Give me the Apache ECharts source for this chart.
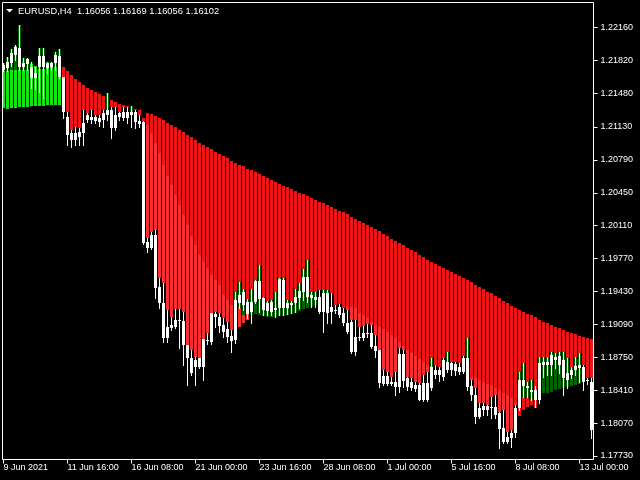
<!DOCTYPE html>
<html><head><meta charset="utf-8">
<script src="https://cdn.jsdelivr.net/npm/echarts@6/dist/echarts.min.js"></script>
<style>html,body{margin:0;padding:0;background:#000}#c{width:640px;height:480px}</style>
</head><body><div id="c"></div>
<script>
const titleText = 'EURUSD,H4  1.16056 1.16169 1.16056 1.16102';
const xLabels = ['9 Jun 2021','11 Jun 16:00','16 Jun 08:00','21 Jun 00:00','23 Jun 16:00','28 Jun 08:00','1 Jul 00:00','5 Jul 16:00','8 Jul 08:00','13 Jul 00:00'];
const yTicks = [1.2216,1.2182,1.2148,1.2113,1.2079,1.2045,1.2011,1.1977,1.1943,1.1909,1.1875,1.1841,1.1807,1.1773];

const opens = [1.2172,1.2174,1.2179,1.2196,1.2195,1.2175,1.2183,1.2175,1.2164,1.2175,
1.2186,1.2174,1.2175,1.2187,1.2186,1.2165,1.2123,1.2107,1.2100,1.2103,
1.2107,1.2125,1.2123,1.2123,1.2118,1.2120,1.2131,1.2131,1.2112,1.2123,
1.2128,1.2122,1.2128,1.2128,1.2119,1.2118,1.1988,1.2001,1.2001,1.1948,
1.1931,1.1895,1.1905,1.1906,1.1914,1.1912,1.1888,1.1859,1.1865,1.1865,
1.1865,1.1892,1.1891,1.1920,1.1917,1.1908,1.1904,1.1892,1.1893,1.1931,
1.1942,1.1920,1.1922,1.1932,1.1954,1.1936,1.1923,1.1932,1.1924,1.1926,
1.1955,1.1926,1.1929,1.1931,1.1936,1.1942,1.1958,1.1939,1.1937,1.1922,
1.1941,1.1941,1.1927,1.1924,1.1927,1.1921,1.1910,1.1911,1.1880,1.1895,
1.1895,1.1900,1.1900,1.1887,1.1883,1.1856,1.1847,1.1849,1.1844,1.1844,
1.1878,1.1854,1.1849,1.1846,1.1846,1.1831,1.1831,1.1843,1.1862,1.1857,
1.1855,1.1870,1.1862,1.1868,1.1860,1.1874,1.1874,1.1845,1.1836,1.1813,
1.1821,1.1825,1.1823,1.1824,1.1817,1.1802,1.1787,1.1792,1.1797,1.1823,
1.1852,1.1845,1.1841,1.1831,1.1831,1.1867,1.1870,1.1867,1.1875,1.1876,
1.1872,1.1852,1.1857,1.1862,1.1867,1.1865,1.1852,1.1849];

const closes = [1.2177,1.2180,1.2189,1.2187,1.2175,1.2179,1.2178,1.2164,1.2169,1.2186,
1.2175,1.2179,1.2179,1.2179,1.2165,1.2128,1.2105,1.2100,1.2107,1.2108,
1.2117,1.2120,1.2120,1.2119,1.2122,1.2127,1.2125,1.2112,1.2125,1.2127,
1.2122,1.2128,1.2125,1.2118,1.2116,1.1993,1.1994,1.1988,1.1947,1.1931,
1.1895,1.1906,1.1908,1.1914,1.1912,1.1888,1.1874,1.1874,1.1872,1.1874,
1.1894,1.1893,1.1921,1.1917,1.1907,1.1901,1.1896,1.1897,1.1934,1.1939,
1.1929,1.1932,1.1932,1.1954,1.1935,1.1924,1.1931,1.1922,1.1926,1.1956,
1.1926,1.1931,1.1931,1.1937,1.1943,1.1958,1.1937,1.1936,1.1934,1.1937,
1.1922,1.1921,1.1922,1.1923,1.1919,1.1910,1.1901,1.1880,1.1896,1.1896,
1.1900,1.1899,1.1886,1.1881,1.1848,1.1847,1.1856,1.1847,1.1849,1.1878,
1.1850,1.1844,1.1843,1.1842,1.1831,1.1848,1.1848,1.1865,1.1857,1.1862,
1.1872,1.1862,1.1869,1.1861,1.1865,1.1860,1.1844,1.1836,1.1813,1.1823,
1.1825,1.1821,1.1824,1.1815,1.1801,1.1787,1.1793,1.1797,1.1823,1.1852,
1.1845,1.1843,1.1839,1.1841,1.1869,1.1870,1.1867,1.1877,1.1872,1.1867,
1.1854,1.1859,1.1862,1.1866,1.1864,1.1849,1.1850,1.1800];

const highs = [1.2179,1.2185,1.2194,1.2198,1.2218,1.2184,1.2184,1.2180,1.2175,1.2195,
1.2195,1.2180,1.2180,1.2190,1.2194,1.2165,1.2128,1.2110,1.2113,1.2112,
1.2131,1.2127,1.2131,1.2125,1.2125,1.2131,1.2148,1.2134,1.2134,1.2128,
1.2134,1.2134,1.2135,1.2131,1.2125,1.2119,1.1998,1.2004,1.2007,1.1957,
1.1952,1.1924,1.1917,1.1925,1.1925,1.1922,1.1888,1.1883,1.1875,1.1874,
1.1894,1.1900,1.1921,1.1922,1.1921,1.1916,1.1911,1.1903,1.1942,1.1953,
1.1946,1.1935,1.1946,1.1955,1.1970,1.1937,1.1933,1.1934,1.1942,1.1957,
1.1957,1.1934,1.1933,1.1946,1.1952,1.1966,1.1976,1.1942,1.1942,1.1945,
1.1945,1.1945,1.1941,1.1929,1.1930,1.1926,1.1924,1.1914,1.1914,1.1906,
1.1907,1.1909,1.1908,1.1898,1.1883,1.1862,1.1860,1.1855,1.1860,1.1885,
1.1883,1.1855,1.1854,1.1849,1.1848,1.1857,1.1860,1.1874,1.1867,1.1865,
1.1874,1.1880,1.1870,1.1870,1.1869,1.1876,1.1895,1.1852,1.1843,1.1828,
1.1828,1.1826,1.1834,1.1836,1.1818,1.1821,1.1798,1.1800,1.1826,1.1860,
1.1869,1.1849,1.1852,1.1845,1.1875,1.1875,1.1875,1.1880,1.1879,1.1880,
1.1880,1.1874,1.1865,1.1875,1.1879,1.1867,1.1854,1.1854];

const lows = [1.2171,1.2171,1.2176,1.2182,1.2172,1.2172,1.2172,1.2153,1.2152,1.2149,
1.2143,1.2169,1.2172,1.2172,1.2164,1.2122,1.2094,1.2092,1.2094,1.2094,
1.2094,1.2118,1.2117,1.2117,1.2114,1.2113,1.2120,1.2102,1.2110,1.2120,
1.2120,1.2117,1.2113,1.2112,1.2113,1.1992,1.1984,1.1987,1.1936,1.1926,
1.1891,1.1891,1.1903,1.1905,1.1885,1.1867,1.1846,1.1857,1.1846,1.1864,
1.1852,1.1889,1.1889,1.1906,1.1901,1.1896,1.1891,1.1880,1.1890,1.1926,
1.1924,1.1916,1.1910,1.1931,1.1922,1.1919,1.1919,1.1919,1.1917,1.1919,
1.1919,1.1920,1.1921,1.1922,1.1926,1.1934,1.1932,1.1927,1.1927,1.1921,
1.1901,1.1910,1.1910,1.1921,1.1917,1.1908,1.1900,1.1879,1.1877,1.1893,
1.1893,1.1896,1.1885,1.1875,1.1844,1.1846,1.1846,1.1846,1.1836,1.1839,
1.1844,1.1841,1.1841,1.1840,1.1831,1.1830,1.1830,1.1841,1.1854,1.1850,
1.1852,1.1860,1.1857,1.1857,1.1858,1.1859,1.1841,1.1831,1.1807,1.1812,
1.1815,1.1815,1.1812,1.1812,1.1781,1.1786,1.1786,1.1782,1.1793,1.1821,
1.1834,1.1834,1.1831,1.1824,1.1828,1.1855,1.1857,1.1857,1.1864,1.1859,
1.1836,1.1843,1.1854,1.1857,1.1849,1.1841,1.1847,1.1792];

// upper (red) band line
const bandTop = [null,null,null,null,null,null,null,null,null,null,null,null,null,null,null,
1.2175,1.2171,1.2167,1.2163,1.2159,
1.2156,1.2153,1.2151,1.2149,1.2147,1.2145,1.2143,1.2141,1.2139,1.2137,
1.2136,1.2135,1.2133,1.2132,1.2131,1.2122,1.2127,1.2126,1.2124,1.2122,
1.2120,1.2117,1.2115,1.2113,1.2110,1.2108,1.2105,1.2103,1.2100,1.2096,
1.2094,1.2092,1.2090,1.2087,1.2085,1.2083,1.2081,1.2078,1.2076,1.2074,
1.2073,1.2070,1.2069,1.2066,1.2064,1.2062,1.2060,1.2058,1.2056,1.2054,
1.2052,1.2051,1.2049,1.2047,1.2045,1.2044,1.2042,1.2040,1.2038,1.2036,
1.2034,1.2032,1.2030,1.2028,1.2026,1.2025,1.2023,1.2020,1.2018,1.2016,
1.2014,1.2012,1.2010,1.2008,1.2005,1.2002,1.2000,1.1997,1.1995,1.1993,
1.1991,1.1988,1.1986,1.1984,1.1981,1.1979,1.1976,1.1973,1.1971,1.1969,
1.1967,1.1965,1.1963,1.1961,1.1959,1.1957,1.1955,1.1953,1.1950,1.1948,
1.1946,1.1942,1.1941,1.1938,1.1936,1.1933,1.1931,1.1928,1.1926,1.1924,
1.1922,1.1920,1.1919,1.1917,1.1914,1.1911,1.1910,1.1908,1.1906,1.1905,
1.1903,1.1901,1.1900,1.1899,1.1897,1.1896,1.1895,1.1894];

// red band lower end where it is not the bar high: [bar, price]
const bandLowOverride = [[58,1.1903],[59,1.1906],[60,1.1910],[61,1.1914],
[129,1.1814],[130,1.1821],[131,1.1824],[132,1.1826],[133,1.1823]];

// lighter red band upper line: [bar, price]
const lightTop = [[36,1.2115],[37,1.2107],[38,1.2096],[39,1.2086],[40,1.2074],[41,1.2062],[42,1.2053],[43,1.2043],[44,1.2032],[45,1.2022],
[46,1.2012],[47,1.2000],[48,1.1991],[49,1.1981],[50,1.1973],[51,1.1967],[52,1.1960],[53,1.1955],[54,1.1950],[55,1.1939],
[56,1.1934],[57,1.1929],[58,1.1929],[59,1.1928],[60,1.1928],[61,1.1928],
[86,1.1927],[87,1.1927],[88,1.1926],[89,1.1921],[90,1.1919],[91,1.1916],[92,1.1911],[93,1.1908],[94,1.1906],[95,1.1904],
[96,1.1901],[97,1.1898],[98,1.1895],[99,1.1891],[100,1.1887],[101,1.1883],[102,1.1879],[103,1.1876],[104,1.1873],[105,1.1870],[106,1.1867],
[117,1.1854],[118,1.1854],[119,1.1852],[120,1.1849],[121,1.1847],[122,1.1845],[123,1.1843],[124,1.1841],[125,1.1838],[126,1.1836],[127,1.1833],[128,1.1828]];

// bright green band (bars 0..14)
const greenTop = [1.2171,1.2171,1.2172,1.2172,1.2172,1.2172,1.2172,1.2178,1.2176,1.2173,1.2173,1.2174,1.2175,1.2175,1.2175];
const greenBot = [1.2133,1.2132,1.2133,1.2133,1.2134,1.2134,1.2134,1.2135,1.2135,1.2135,1.2135,1.2136,1.2136,1.2136,1.2136];

// dark green bars: [bar, top, bottom]
const darkGreen = [[0,1.2179,1.2171],[1,1.2185,1.2171],[2,1.2194,1.2172],[3,1.2198,1.2172],[4,1.2218,1.2172],[5,1.2184,1.2172],[6,1.2184,1.2172],
[7,1.2180,1.2178],[9,1.2195,1.2173],[10,1.2195,1.2173],[11,1.2180,1.2174],[12,1.2180,1.2175],[13,1.2190,1.2175],[14,1.2194,1.2175],
[26,1.2148,1.2131],[32,1.2135,1.2128],
[58,1.1942,1.1927],[59,1.1953,1.1926],[60,1.1946,1.1919],[61,1.1935,1.1920],[62,1.1946,1.1919],[63,1.1955,1.1920],[64,1.1970,1.1919],
[65,1.1937,1.1918],[66,1.1933,1.1917],[67,1.1934,1.1917],[68,1.1942,1.1917],[69,1.1957,1.1918],[70,1.1957,1.1918],[71,1.1934,1.1919],
[72,1.1933,1.1920],[73,1.1946,1.1921],[74,1.1952,1.1923],[75,1.1966,1.1925],[76,1.1976,1.1926],[77,1.1942,1.1927],[78,1.1942,1.1929],
[80,1.1945,1.1941],[81,1.1945,1.1939],[107,1.1874,1.1865],[111,1.1880,1.1870],[116,1.1895,1.1874],
[129,1.1860,1.1852],[130,1.1869,1.1833],[131,1.1849,1.1833],[132,1.1852,1.1832],[134,1.1875,1.1833],[135,1.1875,1.1838],[136,1.1875,1.1838],
[137,1.1880,1.1839],[138,1.1879,1.1841],[139,1.1880,1.1842],[140,1.1880,1.1843],[141,1.1874,1.1844],[142,1.1865,1.1845],[143,1.1875,1.1846],[144,1.1879,1.1847]];

const Y_MIN = 1.176938, Y_MAX = 1.224165;
const N = opens.length;
const FONT = "'Liberation Sans', Arial, sans-serif";

const lowOv = {};
bandLowOverride.forEach(d => { lowOv[d[0]] = d[1]; });
const bandLow = i => (lowOv[i] != null ? lowOv[i] : highs[i]);

const redData = [];
for (let i = 0; i < N; i++) if (bandTop[i] != null) redData.push([i, bandTop[i], bandLow(i)]);
const lightData = lightTop.filter(d => d[1] > bandLow(d[0])).map(d => [d[0], d[1], bandLow(d[0])]);
const greenData = greenTop.map((t, i) => [i, t, greenBot[i]]);
const candleData = opens.map((o, i) => [i, o, closes[i], lows[i], highs[i]]);

function rangeRender(color) {
  return function (params, api) {
    const i = api.value(0);
    const p1 = api.coord([i, api.value(1)]);
    const p2 = api.coord([i, api.value(2)]);
    const y1 = Math.round(Math.min(p1[1], p2[1]));
    const y2 = Math.round(Math.max(p1[1], p2[1]));
    return { type: 'rect', shape: { x: Math.round(p1[0] - 1.5), y: y1, width: 3, height: Math.max(1, y2 - y1) }, style: { fill: color } };
  };
}
function candleRender(params, api) {
  const i = api.value(0);
  const po = api.coord([i, api.value(1)]);
  const pc = api.coord([i, api.value(2)]);
  const pl = api.coord([i, api.value(3)]);
  const ph = api.coord([i, api.value(4)]);
  const hy = Math.round(ph[1]), ly = Math.round(pl[1]);
  const bt = Math.round(Math.min(po[1], pc[1])), bb = Math.round(Math.max(po[1], pc[1]));
  return { type: 'group', children: [
    { type: 'rect', shape: { x: Math.round(ph[0] - 0.5), y: hy, width: 1, height: Math.max(1, ly - hy + 1) }, style: { fill: '#ffffff' } },
    { type: 'rect', shape: { x: Math.round(ph[0] - 1.5), y: bt, width: 3, height: Math.max(1, bb - bt) }, style: { fill: '#ffffff' } }
  ] };
}

const chart = echarts.init(document.getElementById('c'), null, { renderer: 'canvas' });
chart.setOption({
  backgroundColor: '#000000',
  animation: false,
  grid: { left: 1.5, right: 46.5, top: 2.5, bottom: 20.5, show: false },
  xAxis: {
    type: 'category',
    data: opens.map((_, i) => i),
    boundaryGap: true,
    axisLine: { show: false },
    axisTick: { show: true, alignWithLabel: true, interval: 15, length: 4, lineStyle: { color: '#ffffff' } },
    axisLabel: {
      interval: 15, align: 'left', margin: 4, color: '#ffffff', fontSize: 9, fontFamily: FONT,
      formatter: (v, idx) => (idx % 16 === 0 ? (xLabels[idx / 16] || '') : '')
    },
    splitLine: { show: false }
  },
  yAxis: {
    type: 'value', position: 'right', min: Y_MIN, max: Y_MAX, scale: true,
    axisLine: { show: false },
    splitLine: { show: false },
    axisTick: { show: true, length: 4, customValues: yTicks, lineStyle: { color: '#ffffff' } },
    axisLabel: { customValues: yTicks, margin: 7, color: '#ffffff', fontSize: 9, fontFamily: FONT, formatter: v => v.toFixed(5) }
  },
  graphic: [
    { type: 'rect', z: 100, silent: true, shape: { x: 2.5, y: 2.5, width: 591, height: 457 }, style: { fill: null, stroke: '#ffffff', lineWidth: 1 } },
    { type: 'polygon', z: 100, shape: { points: [[6, 9], [13, 9], [9.5, 12.5]] }, style: { fill: '#ffffff' } },
    { type: 'text', z: 100, x: 18, y: 11, style: { text: titleText, fill: '#ffffff', fontSize: 9.3, fontFamily: FONT, verticalAlign: 'middle' } }
  ],
  series: [
    { type: 'custom', name: 'band', renderItem: rangeRender('#f01414'), data: redData, encode: { x: 0, y: [1, 2] }, silent: true, z: 1 },
    { type: 'custom', name: 'band2', renderItem: rangeRender('#ff2e2e'), data: lightData, encode: { x: 0, y: [1, 2] }, silent: true, z: 2 },
    { type: 'custom', name: 'up', renderItem: rangeRender('#14e614'), data: greenData, encode: { x: 0, y: [1, 2] }, silent: true, z: 3 },
    { type: 'custom', name: 'up2', renderItem: rangeRender('#006400'), data: darkGreen, encode: { x: 0, y: [1, 2] }, silent: true, z: 4 },
    { type: 'custom', name: 'EURUSD', renderItem: candleRender, data: candleData, encode: { x: 0, y: [1, 2, 3, 4] }, silent: true, z: 5 }
  ]
});
</script>
</body></html>
